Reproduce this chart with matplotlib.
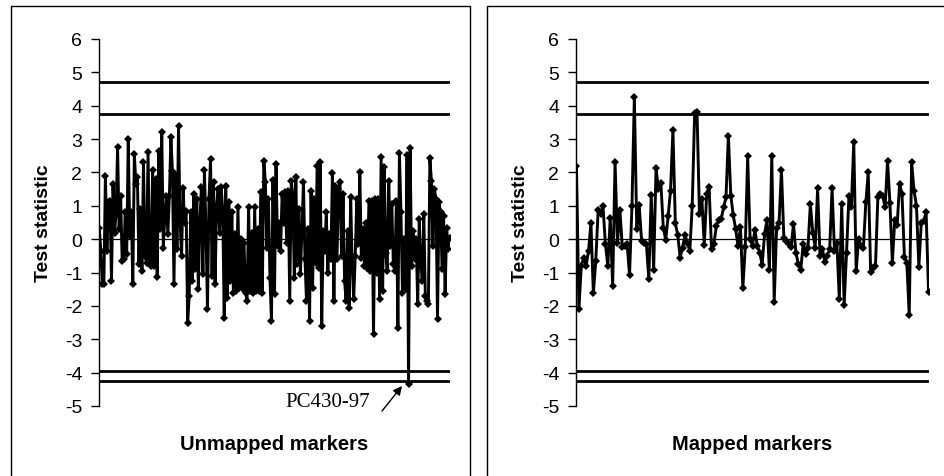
import matplotlib
matplotlib.use("Agg")
import matplotlib.pyplot as plt
from matplotlib.patches import Rectangle

plt.rcParams['font.family'] = ['Liberation Sans', 'DejaVu Sans']
plt.rcParams['axes.unicode_minus'] = False

# Test statistics for unmapped markers (in order)
unmapped = [
    0.35, -0.35, -1.35, -1.35, 1.9, -0.35, 1.1, 1.15, -1.25, 1.65, 0.2, 0.75, 2.75, 0.3, 1.3,
    -0.65, -0.6, 0.8, -0.45, 3.0, 0.1, 0.8, -1.35, 2.55, 1.65, 1.85, -0.75, 0.9, -0.95, 2.3,
    -0.5, -0.7, 2.6, -0.55, -0.8, 2.07, -0.8, 1.8, -1.12, 2.65, 0.3, 3.22, -0.25, 0.65, 1.3,
    0.15, 1.3, 3.05, 2.05, -1.35, 1.95, -0.3, 3.4, 0.5, -0.5, 1.52, 0.5, 0.85, -2.5, -1.7,
    0.8, -1.25, 1.35, -0.9, 1.2, -1.5, 0.5, 1.55, -1.05, 2.07, 0.3, -2.08, 1.2, 2.4, -1.1,
    1.7, -1.35, 1.0, 1.5, 0.2, 1.55, 0.9, -2.35, 1.6, -1.75, 1.1, -1.25, 0.82, -1.6, 0.15,
    -1.55, 0.97, -1.45, 0.0, -1.5, -0.1, -1.6, -1.85, 0.95, -1.55, 0.2, -1.6, 0.95, -1.55, 0.3,
    -1.55, 1.42, -1.6, 2.35, 1.72, -0.25, 1.2, -1.15, -2.45, 1.78, -1.65, 2.25, -0.2, 0.5, -0.35,
    1.35, 0.5, 1.4, -0.1, 1.45, -1.85, 1.75, 1.33, -1.15, 1.85, -0.75, 0.9, -1.05, 0.2, 1.72,
    -0.6, -1.85, 0.3, -2.45, 1.45, -1.45, 1.2, -0.7, 2.2, -0.85, 2.3, -2.6, 0.25, -0.35, 0.8,
    -1.0, 0.15, -0.6, 1.97, -1.85, 1.58, -0.6, 1.5, 1.7, -0.5, 1.35, -1.25, -1.85, 0.25, -2.05,
    1.25, -0.8, -1.8, -0.5, 1.2, -0.15, 2.0, -0.55, 0.3, -0.8, 0.5, -0.85, 1.15, -0.95, 1.15,
    -2.85, 1.2, -1.0, 1.2, -1.8, 2.45, -1.55, 2.15, -0.4, -0.95, 1.75, -0.2, 1.05, -0.75, -0.95,
    1.15, -2.65, 2.58, 0.8, -1.6, 0.0, -1.5, 2.52, -4.35, 2.72, -0.8, 0.25, -0.6, 0.0, -1.95,
    0.6, -0.7, -1.25, 0.75, -1.7, -1.85, -1.95, 2.42, 1.75, -0.2, 1.5, 1.2, -2.4, 1.1, 0.8,
    -0.9, 0.7, -1.65, 0.35, -0.3, 0.05,
]

# Test statistics for mapped markers (in order)
mapped = [
    2.2, -2.1, -0.8, -0.55, -0.8, -0.35, 0.48, -1.62, -0.65, 0.88, 0.75, 0.98, -0.15, -0.8, 0.62,
    -1.4, 2.3, -0.12, 0.88, -0.22, -0.2, -0.15, -1.07, 0.98, 4.27, 0.3, 1.02, -0.05, -0.1, -0.15,
    -1.2, 1.33, -0.92, 2.12, 1.5, 1.68, 0.35, -0.02, 0.68, 1.45, 3.27, 0.48, 0.12, -0.55, -0.25,
    0.12, -0.1, -0.35, 1.0, 3.77, 3.8, 0.75, 1.2, -0.17, 1.35, 1.57, -0.3, -0.15, 0.4, 0.57,
    0.6, 0.95, 1.25, 3.1, 1.3, 0.73, 0.3, -0.2, 0.36, -1.47, -0.23, 2.48, 0.0, -0.2, 0.28,
    -0.2, -0.4, -0.77, 0.15, 0.57, -0.93, 2.48, -1.87, 0.33, 0.48, 2.08, 0.05, -0.05, -0.15, -0.22,
    0.45, -0.4, -0.75, -0.93, -0.15, -0.45, -0.25, 1.05, 0.2, -0.25, 1.52, -0.5, -0.3, -0.67, -0.5,
    -0.3, 1.52, -0.35, -0.1, -1.8, 1.05, -1.97, -0.4, 1.3, 0.97, 2.9, -0.95, 0.02, -0.2, -0.25,
    1.1, 2.0, -0.98, -0.85, -0.8, 1.27, 1.35, 1.3, 0.96, 2.35, 1.08, -0.7, 0.58, 0.43, 1.65,
    1.35, -0.52, -0.7, -2.28, 2.3, 1.45, 1.0, -0.83, 0.5, 0.55, 0.8, -1.57,
]

thresholds = [4.7, 3.75, -3.95, -4.25]
yticks = list(range(-5, 7))

W, H = 944, 477
fig = plt.figure(figsize=(W / 100, H / 100), dpi=100)

# panel borders
for (x0, x1) in [(11, 470), (487, 946)]:
    fig.patches.append(Rectangle((x0 / W, -0.05), (x1 - x0) / W, 1.05 - 7 / H,
                                 transform=fig.transFigure, fill=False,
                                 edgecolor='black', linewidth=1.0))

bottom = 1 - 407 / H
top = 1 - 40 / H
panels = [
    (unmapped, "Unmapped markers", 99, 450),
    (mapped, "Mapped markers", 576, 929),
]

axes = []
for vals, xlabel, px0, px1 in panels:
    ax = fig.add_axes([px0 / W, bottom, (px1 - px0) / W, top - bottom])
    n = len(vals)
    xs = list(range(n))
    ax.axhline(0, color='black', linewidth=0.9, zorder=1)
    for t in thresholds:
        ax.axhline(t, color='black', linewidth=2.0, zorder=1)
    ax.plot(xs, vals, color='black', linewidth=2.1, marker='D', markersize=3.8,
            markeredgewidth=0, zorder=3)
    ax.set_xlim(-0.2, n - 0.8)
    ax.set_ylim(-5, 6)
    ax.set_yticks(yticks)
    ax.set_xticks([])
    for s in ['top', 'right', 'bottom']:
        ax.spines[s].set_visible(False)
    ax.spines['left'].set_linewidth(1.0)
    ax.tick_params(axis='y', direction='out', length=6, width=1.0, labelsize=14, pad=6)
    ax.set_ylabel("Test statistic", fontsize=14, fontweight='bold', labelpad=9)
    ax.set_xlabel(xlabel, fontsize=14.5, fontweight='bold', labelpad=20)
    axes.append(ax)

fig.text(370 / W, 1 - 403 / H, "PC430-97", ha='right', va='center',
         fontsize=15, family='Liberation Serif')
fig.patches.append(matplotlib.patches.FancyArrowPatch(
    (382 / W, 1 - 412 / H), (402 / W, 1 - 387 / H), transform=fig.transFigure,
    arrowstyle='-|>', color='black', lw=1.0, mutation_scale=13,
    shrinkA=0, shrinkB=0))

fig.savefig("out.png", dpi=100)
